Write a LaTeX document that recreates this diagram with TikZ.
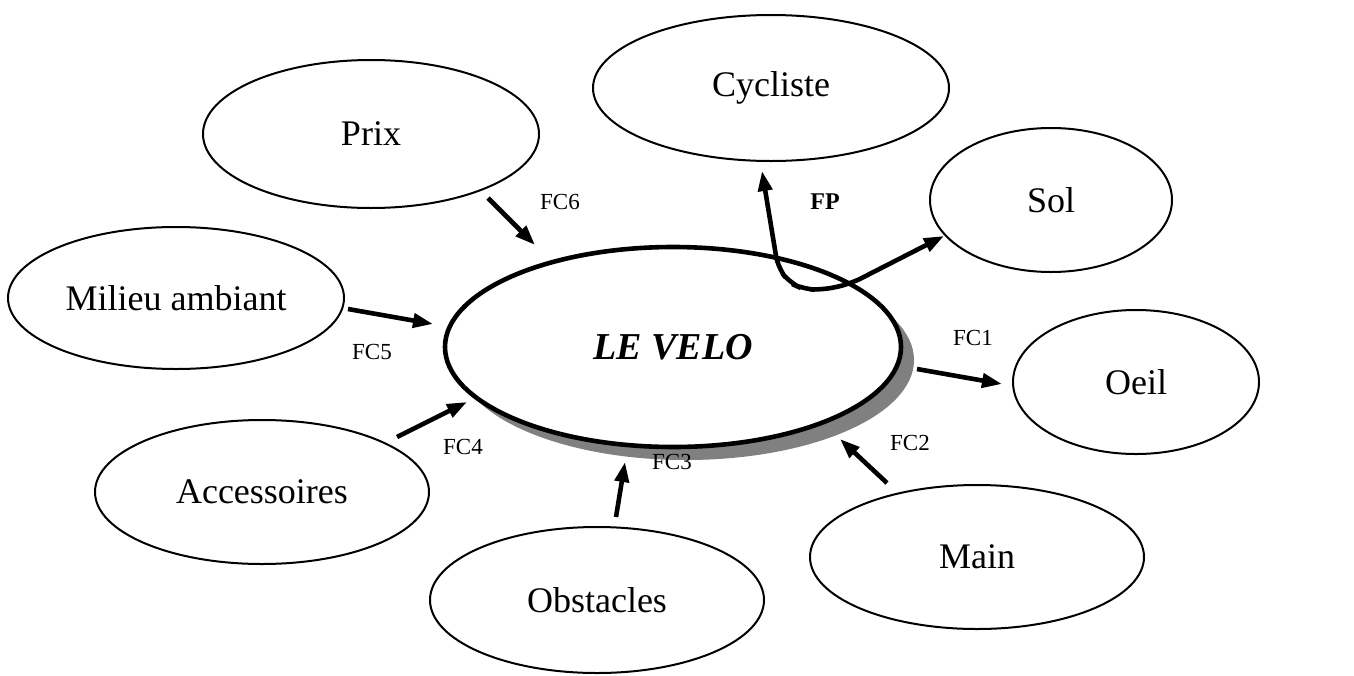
\documentclass[tikz,border=0pt]{standalone}
\usepackage{fontspec}
\setmainfont{Liberation Serif}
\usetikzlibrary{shapes.geometric,arrows.meta}
\begin{document}
\begin{tikzpicture}[x=0.5pt,y=-0.5pt,
  ell/.style={draw,ellipse,line width=1pt,inner sep=0pt,font=\fontsize{18}{20}\selectfont},
  fc/.style={font=\fontsize{11.5}{13}\selectfont},
  tip/.style={Triangle[length=10pt,width=7pt]},
  arr/.style={line width=2.3pt,-{Triangle[length=10pt,width=7pt]}}]
\useasboundingbox (0,0) rectangle (1354,675);
% shadow and central ellipse
\fill[black!50] (686,360) ellipse [x radius=228, y radius=100];
\node[draw,ellipse,line width=2.3pt,fill=white,minimum width=228pt,minimum height=100pt,inner sep=0pt,
  font=\fontsize{19}{21}\selectfont\bfseries\itshape] (velo) at (673,347) {LE VELO};
% outer ellipses
\node[ell,minimum width=178pt,minimum height=73pt] (cyc) at (771,88) {Cycliste};
\node[ell,minimum width=121pt,minimum height=72pt] (sol) at (1051,200) {Sol};
\node[ell,minimum width=123pt,minimum height=72pt] (oeil) at (1136,382) {Oeil};
\node[ell,minimum width=167pt,minimum height=72pt] (main) at (977,557) {Main};
\node[ell,minimum width=167pt,minimum height=73pt] (obs) at (597,600) {Obstacles};
\node[ell,minimum width=167pt,minimum height=72pt] (acc) at (262,492) {Accessoires};
\node[ell,minimum width=168pt,minimum height=71pt] (mil) at (176,298) {Milieu ambiant};
\node[ell,minimum width=168pt,minimum height=74pt] (prix) at (371,134) {Prix};
% arrow end points
\coordinate (a6) at (488,198); \coordinate (b6) at (535,245);
\coordinate (a5) at (348,309); \coordinate (b5) at (433,324);
\coordinate (a4) at (397,437); \coordinate (b4) at (467,402);
\coordinate (a3) at (616,517); \coordinate (b3) at (625,462);
\coordinate (a2) at (887,483); \coordinate (b2) at (840,439);
\coordinate (a1) at (917,369); \coordinate (b1) at (1002,384);
\coordinate (fpa) at (762,171); \coordinate (fpb) at (944,236);
\draw[arr] (a6) -- (b6);
\draw[arr] (a5) -- (b5);
\draw[arr] (a4) -- (b4);
\draw[arr] (a3) -- (b3);
\draw[arr] (a2) -- (b2);
\draw[arr] (a1) -- (b1);
\draw[line width=2.3pt,{Triangle[length=10pt,width=7pt]}-{Triangle[length=10pt,width=7pt]},rounded corners=6pt]
  (fpa) -- (778,268) -- (790,283) -- (803,289) -- (822,290) -- (850,284) -- (fpb);
% labels
\node[fc] (l6) at (560,202) {FC6};
\node[fc] (l5) at (372,352) {FC5};
\node[fc] (l4) at (463,447) {FC4};
\node[fc] (l3) at (672,462) {FC3};
\node[fc] (l2) at (910,443) {FC2};
\node[fc] (l1) at (973,338) {FC1};
\node[font=\fontsize{12}{14}\selectfont\bfseries] (lfp) at (825,202) {FP};
\end{tikzpicture}
\end{document}
